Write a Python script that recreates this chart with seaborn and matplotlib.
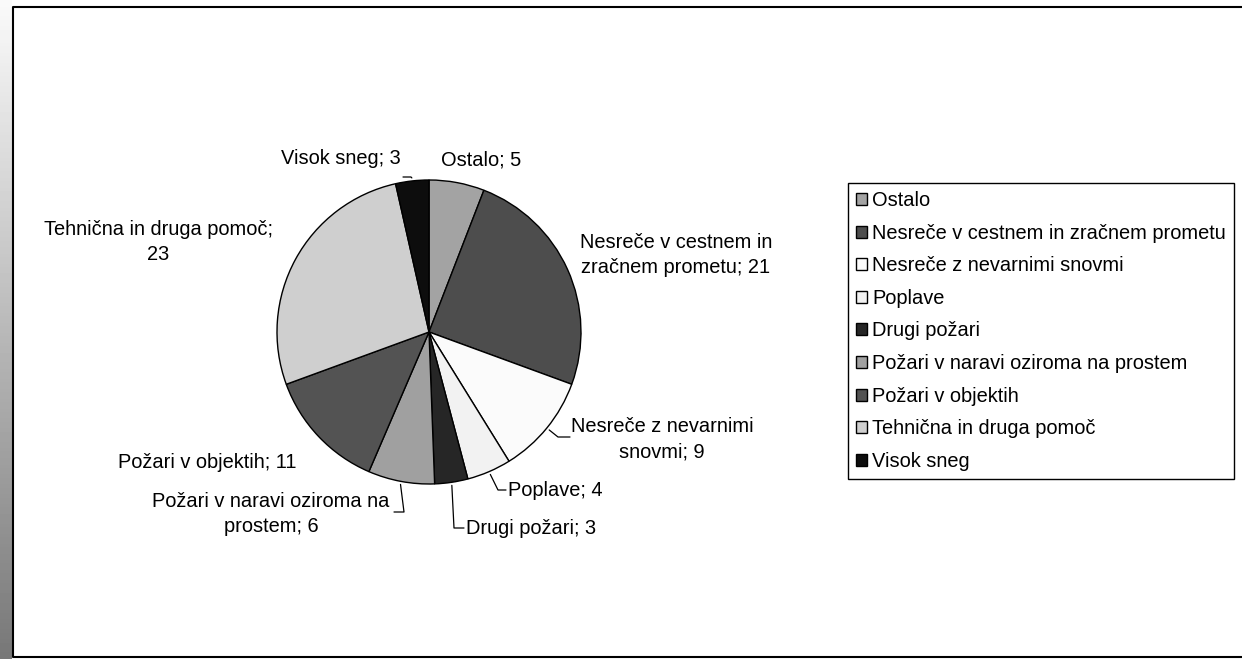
import textwrap
import numpy as np
import matplotlib
matplotlib.use("Agg")
import matplotlib.pyplot as plt
import seaborn as sns

# values (clockwise from 12 o'clock)
categories = ["Ostalo", "Nesreče v cestnem in zračnem prometu",
              "Nesreče z nevarnimi snovmi", "Poplave", "Drugi požari",
              "Požari v naravi oziroma na prostem", "Požari v objektih",
              "Tehnična in druga pomoč", "Visok sneg"]
values = [5, 21, 9, 4, 3, 6, 11, 23, 3]
colors = ["#a3a3a3", "#4d4d4d", "#fbfbfb", "#f2f2f2", "#262626",
          "#a0a0a0", "#535353", "#cfcfcf", "#0d0d0d"]

W, H = 1242, 659
fs = 14.4

sns.set_theme(style="white")
plt.rcParams['font.family'] = ['Liberation Sans', 'DejaVu Sans']
plt.rcParams['text.color'] = "black"

fig = plt.figure(figsize=(W / 100, H / 100), dpi=100)
fig.patch.set_facecolor("white")

# gray gradient strip on the left edge
ax_strip = fig.add_axes([0, 0, 12 / W, 1])
ax_strip.imshow(np.linspace(0.98, 0.47, 200)[:, None], cmap="gray",
                vmin=0, vmax=1, aspect="auto")
ax_strip.axis("off")

# main axes in pixel units (y up)
ax = fig.add_axes([0, 0, 1, 1])
ax.patch.set_alpha(0)
cx, cy, r = 429, H - 332, 152
wedges, _ = ax.pie(values, colors=colors, startangle=90, counterclock=False,
                   center=(cx, cy), radius=r,
                   wedgeprops=dict(edgecolor="black", linewidth=1.0))
ax.set_xlim(0, W)
ax.set_ylim(0, H)
ax.set_aspect("equal")
ax.axis("off")

# label layout: anchor (image px), alignment, wrap width, leader elbow points
label_layout = [
    (441, 160, "left", None, None),
    (676, 255, "center", 20, None),
    (662, 439, "center", 19, [(558, 437), (570, 437)]),
    (508, 490, "left", None, [(498, 490), (506, 490)]),
    (466, 528, "left", None, [(454, 528), (464, 528)]),
    (271, 514, "center", 26, [(404, 512), (394, 512)]),
    (207, 462, "center", None, None),
    (158, 242, "center", 24, None),
    (401, 158, "right", None, [(411, 177), (403, 177)]),
]

for w, name, val, (lx, ly, ha, wrap, leader) in zip(wedges, categories, values, label_layout):
    txt = f"{name}; {val}"
    if wrap:
        txt = "\n".join(textwrap.wrap(txt, wrap))
    ax.text(lx, H - ly, txt, ha=ha, va="center", fontsize=fs,
            linespacing=1.4, multialignment="center", color="black")
    if leader:
        ang = np.deg2rad((w.theta1 + w.theta2) / 2)
        xs = [cx + r * 1.02 * np.cos(ang)] + [p[0] for p in leader]
        ys = [cy + r * 1.02 * np.sin(ang)] + [H - p[1] for p in leader]
        ax.plot(xs, ys, color="black", linewidth=0.9)

# legend box on the right
leg = ax.legend(wedges, categories, loc="upper left",
                bbox_to_anchor=(848 / W, 1 - 183 / H), bbox_transform=fig.transFigure,
                frameon=True, fancybox=False, edgecolor="black", facecolor="white",
                framealpha=1, fontsize=fs, handlelength=0.55, handleheight=0.55,
                handletextpad=0.25, labelspacing=0.68, borderpad=0.4,
                borderaxespad=0, labelcolor="black")
leg.get_frame().set_linewidth(1.0)

# outer frame (open on the right)
ax.plot([W + 5, 13, 13, W + 5], [H - 7, H - 7, H - 657, H - 657],
        color="black", linewidth=1.5, clip_on=False)

fig.savefig("out.png", dpi=100)
